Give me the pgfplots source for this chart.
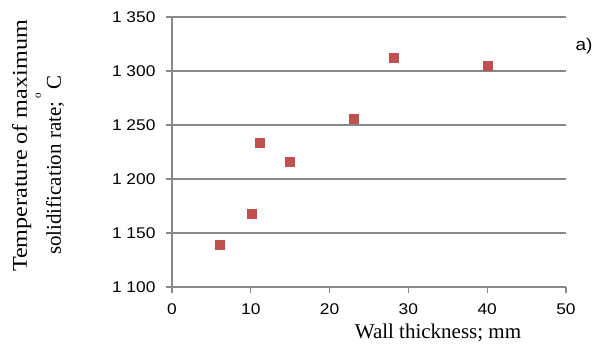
\documentclass[border=0pt]{standalone}
\usepackage{fontspec}
\setmainfont{Liberation Serif}
\newfontfamily\tickfont[FakeStretch=1.12]{Liberation Sans}
\newfontfamily\ylabfont[FakeStretch=1.15]{Liberation Serif}
\usepackage{pgfplots}
\pgfplotsset{compat=1.18}
\definecolor{gridgray}{HTML}{878787}
\definecolor{markred}{HTML}{C0504D}

\begin{document}
\begin{tikzpicture}[x=1pt,y=1pt]
\useasboundingbox (-172,-56) rectangle (425,287);
\begin{axis}[
  scale only axis, width=394pt, height=270pt,
  xmin=0, xmax=50, ymin=1100, ymax=1350,
  xtick={0,10,20,30,40,50},
  xticklabels={0,10,20,30,40,50},
  ytick={1100,1150,1200,1250,1300,1350},
  yticklabels={1\ 100,1\ 150,1\ 200,1\ 250,1\ 300,1\ 350},
  axis x line=bottom, axis y line=left,
  axis line style={-, gridgray, line width=1.2pt},
  ymajorgrids, major grid style={gridgray, line width=1.2pt},
  tick style={gridgray, line width=1.2pt},
  tick align=outside, major tick length=6pt,
  ticklabel style={font=\tickfont\fontsize{15.5}{15.5}\selectfont, text=black},
  yticklabel style={xshift=-7pt},
  xticklabel style={yshift=-7pt},
  clip=false,
]
\addplot[only marks, color=markred, mark=square*, mark size=4.5pt,
  mark options={fill=markred, draw=markred}]
  coordinates {(6.1,1139) (10.1,1168) (11.1,1234) (15,1216)
               (23.1,1256) (28.1,1312) (40,1305)};
\end{axis}
% axis titles
\node[anchor=base, rotate=90, font=\ylabfont\fontsize{21}{21}\selectfont]
  at (-145,141) {Temperature of maximum};
\node[anchor=base, rotate=90, font=\fontsize{21}{21}\selectfont]
  at (-111,122) {solidification rate;\,\raisebox{20pt}{\fontsize{11}{11}\selectfont o}\,C};
\node[anchor=base, font=\fontsize{21}{21}\selectfont] at (266,-51) {Wall thickness; mm};
\node[anchor=base west, font=\tickfont\fontsize{17}{17}\selectfont] at (400,236) {a)};
\end{tikzpicture}
\end{document}
